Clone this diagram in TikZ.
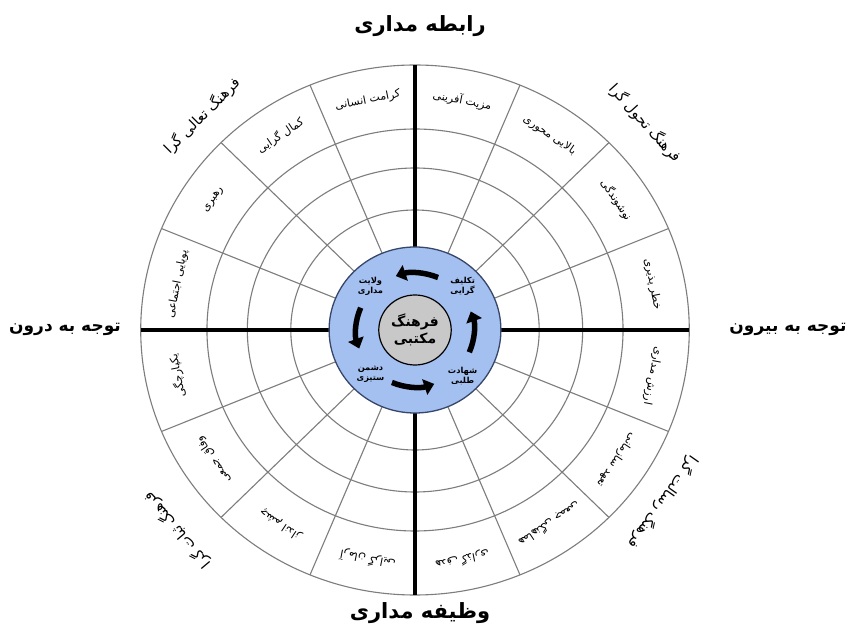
\documentclass[tikz,border=0pt]{standalone}
\usepackage{fontspec}
\usetikzlibrary{arrows.meta}
\newfontfamily\arabicfont[Script=Arabic]{DejaVu Sans}
\TeXXeTstate=1
\newcommand{\rtltxt}[1]{\beginR #1\endR}
\definecolor{ringgray}{RGB}{125,125,125}
\definecolor{bluefill}{RGB}{163,192,240}
\definecolor{blueedge}{RGB}{55,70,105}
\definecolor{centergray}{RGB}{200,200,200}
\begin{document}
\begin{tikzpicture}[x=1pt,y=1pt,
  thinline/.style={draw=ringgray,line width=1.1pt},
  axisline/.style={draw=black,line width=4pt},
  sectorlabel/.style={font=\arabicfont\fontsize{11}{12}\selectfont,inner sep=1pt},
  cornerlabel/.style={font=\arabicfont\fontsize{14.5}{16}\selectfont,inner sep=1pt},
  titlelabel/.style={font=\arabicfont\bfseries\fontsize{17}{20}\selectfont,inner sep=1pt},
  bigtitle/.style={font=\arabicfont\bfseries\fontsize{21}{24}\selectfont,inner sep=1pt},
  innerlabel/.style={font=\arabicfont\bfseries\fontsize{8.3}{10}\selectfont,align=center,inner sep=0pt},
  cyclearrow/.style={draw=black,line width=5.5pt,-{Triangle[length=10pt,width=16pt]}}]
\useasboundingbox (-415,-306) rectangle (433,330);
\fill[white] (-415,-306) rectangle (433,330);
\begin{scope}[xscale=1.035]
  % rings
  \foreach \r in {120,162,201,265} \draw[thinline] (0,0) circle (\r);
  % thin radial lines
  \foreach \a in {22.5,45,67.5,112.5,135,157.5,202.5,225,247.5,292.5,315,337.5}
    \draw[thinline] (\a:83) -- (\a:265);
  % axes
  \coordinate (top1) at (90:83);   \coordinate (top2) at (90:265);
  \coordinate (bot1) at (270:83);  \coordinate (bot2) at (270:265);
  \coordinate (lef1) at (180:83);  \coordinate (lef2) at (180:265);
  \coordinate (rig1) at (0:83);    \coordinate (rig2) at (0:265);
  \draw[axisline] (top1) -- (top2);
  \draw[axisline] (bot1) -- (bot2);
  \draw[axisline] (lef1) -- (lef2);
  \draw[axisline] (rig1) -- (rig2);
  % centre
  \draw[fill=bluefill,draw=blueedge,line width=1.3pt] (0,0) circle (83);
  \draw[fill=centergray,draw=black,line width=1.2pt] (0,0) circle (35);
  \node[font=\arabicfont\bfseries\fontsize{14}{17}\selectfont,align=center,inner sep=0pt] (core) at (0,0) {\rtltxt{فرهنگ}\\\rtltxt{مکتبی}};
  % cycle arrows (counter-clockwise)
  \draw[cyclearrow] (-23:57) arc (-23:19:57);
  \draw[cyclearrow] (67:57) arc (67:109:57);
  \draw[cyclearrow] (157:57) arc (157:199:57);
  \draw[cyclearrow] (247:57) arc (247:289:57);
  \node[innerlabel] (l1) at (46,44) {\rtltxt{تکلیف}\\\rtltxt{گرایی}};
  \node[innerlabel] (l2) at (-43,44) {\rtltxt{ولایت}\\\rtltxt{مداری}};
  \node[innerlabel] (l3) at (-43,-44) {\rtltxt{دشمن}\\\rtltxt{ستیزی}};
  \node[innerlabel] (l4) at (46,-46) {\rtltxt{شهادت}\\\rtltxt{طلبی}};
  % sector labels
  \foreach \a/\t [count=\i] in {
     101.25/کرامت انسانی, 123.75/کمال گرایی, 146.25/رهبری, 168.75/پویایی اجتماعی,
     78.75/مزیت آفرینی, 56.25/بالایی محوری, 33.75/نوشوندگی, 11.25/خطر پذیری,
     -11.25/ارزش مداری, -33.75/تعهد سازمانی, -56.25/هماهنگی جمعی, -78.75/هدف گذاری,
     -101.25/آرمان گرایی, -123.75/چشم انداز, -146.25/وفاق جمعی, -168.75/یکپارچگی}
    \node[sectorlabel,rotate=\a-90] (s\i) at (\a:234) {\rtltxt{\t}};
\end{scope}
% corner labels
\node[cornerlabel,rotate=45] (c1) at (-213,214) {\rtltxt{فرهنگ تعالی گرا}};
\node[cornerlabel,rotate=-48] (c2) at (230,207) {\rtltxt{فرهنگ تحول گرا}};
\node[cornerlabel,rotate=-125] (c3) at (248,-172) {\rtltxt{فرهنگ رسالت گرا}};
\node[cornerlabel,rotate=130] (c4) at (-238,-200) {\rtltxt{فرهنگ ثبات گرا}};
% titles
\node[bigtitle] (t1) at (5,304) {\rtltxt{رابطه مداری}};
\node[bigtitle] (t2) at (5,-283) {\rtltxt{وظیفه مداری}};
\node[titlelabel] (t3) at (-350,1) {\rtltxt{توجه به درون}};
\node[titlelabel] (t4) at (373,1) {\rtltxt{توجه به بیرون}};
\end{tikzpicture}
\end{document}
